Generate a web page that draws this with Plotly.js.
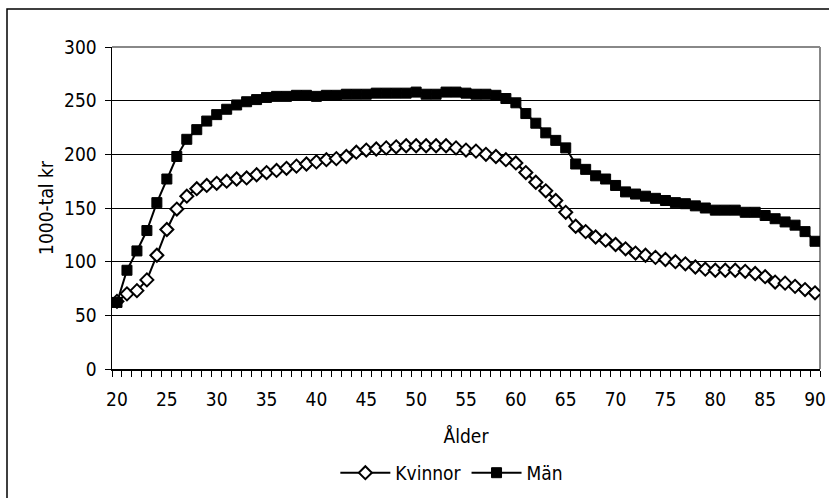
<!DOCTYPE html>
<html>
<head>
<meta charset="utf-8">
<script src="https://cdn.plot.ly/plotly-3.0.1.min.js"></script>
<style>
html,body{margin:0;padding:0;background:#fff;}
#chart{width:829px;height:498px;}
</style>
</head>
<body>
<div id="chart"></div>
<script>
const ages = [20,21,22,23,24,25,26,27,28,29,30,31,32,33,34,35,36,37,38,39,40,41,42,43,44,45,46,47,48,49,50,51,52,53,54,55,56,57,58,59,60,61,62,63,64,65,66,67,68,69,70,71,72,73,74,75,76,77,78,79,80,81,82,83,84,85,86,87,88,89,90];
const kvinnor = [63,70,73,83,106,130,149,161,168,171,173,175,177,178,181,183,185,187,189,191,193,195,196,198,202,204,205,206,207,208,208,208,208,208,206,204,203,200,198,195,192,183,174,166,157,146,133,128,123,120,116,112,108,106,104,102,100,98,95,93,92,92,92,91,89,86,81,80,77,74,71];
const man = [62,92,110,129,155,177,198,214,223,231,237,242,246,249,251,253,254,254,255,255,254,255,255,256,256,256,257,257,257,257,258,256,256,258,258,257,256,256,255,252,248,238,229,220,213,206,191,186,180,177,171,165,163,161,159,157,155,154,152,150,148,148,148,146,146,143,140,137,134,128,119];
const xTickVals = [20,25,30,35,40,45,50,55,60,65,70,75,80,85,90];
const yTickVals = [0,50,100,150,200,250,300];
const seriesNames = ['Kvinnor','Män'];
const xTitle = 'Ålder';
const yTitle = '1000-tal kr';

const FAM = '"DejaVu Sans Condensed", "DejaVu Sans", sans-serif';
const F = (size) => ({family: FAM, size: size, color: '#000', stretch: 'condensed'});

const traces = [
  {x: ages, y: kvinnor, name: seriesNames[0], type: 'scatter', mode: 'lines+markers',
   line: {color: '#000', width: 2},
   marker: {symbol: 'diamond', size: 10, color: '#fff', line: {color: '#000', width: 2}}},
  {x: ages, y: man, name: seriesNames[1], type: 'scatter', mode: 'lines+markers',
   line: {color: '#000', width: 2},
   marker: {symbol: 'square', size: 10, color: '#000', line: {color: '#000', width: 1}}}
];

const layout = {
  width: 829, height: 498,
  margin: {l: 112, r: 9, t: 47, b: 129, autoexpand: false},
  paper_bgcolor: '#fff', plot_bgcolor: '#fff',
  font: F(19),
  showlegend: true,
  legend: {orientation: 'h', x: 0.48, xanchor: 'center', y: -0.3225, yanchor: 'middle',
           font: F(19), itemwidth: 50, tracegroupgap: 0},
  xaxis: {
    range: [19.5, 90.5], tickmode: 'array', tickvals: xTickVals, ticktext: xTickVals.map(String),
    ticks: '', showgrid: false, zeroline: false, automargin: false,
    showline: true, linecolor: '#000', linewidth: 1.5,
    tickfont: F(19), ticklabelstandoff: 13,
    minor: {tick0: 19.5, dtick: 1, ticks: 'outside', ticklen: 6, tickcolor: '#000', tickwidth: 1, showgrid: false},
    title: {text: xTitle, font: F(19), standoff: 20}
  },
  yaxis: {
    range: [0, 300], tickmode: 'array', tickvals: yTickVals, automargin: false,
    ticks: 'outside', ticklen: 6, tickcolor: '#000', tickwidth: 1,
    showgrid: true, gridcolor: '#000', gridwidth: 1, zeroline: false,
    showline: true, linecolor: '#000', linewidth: 1.5,
    tickfont: F(19), ticklabelstandoff: 4,
    title: {text: yTitle, font: F(19), standoff: 5}
  },
  shapes: [
    {type: 'line', xref: 'paper', yref: 'paper', x0: 0, x1: 1, y0: 1, y1: 1, line: {color: '#888', width: 2}, layer: 'above'},
    {type: 'line', xref: 'paper', yref: 'paper', x0: 1, x1: 1, y0: 0, y1: 1, line: {color: '#888', width: 2}, layer: 'below'},
    {type: 'rect', xref: 'paper', yref: 'paper',
     x0: (7 - 112) / 708, x1: 1.1, y0: -0.5, y1: 1 + (47 - 9) / 322,
     line: {color: '#000', width: 1.5}, fillcolor: 'rgba(0,0,0,0)', layer: 'above'}
  ]
};

Plotly.newPlot('chart', traces, layout, {displayModeBar: false, staticPlot: true});
</script>
</body>
</html>
